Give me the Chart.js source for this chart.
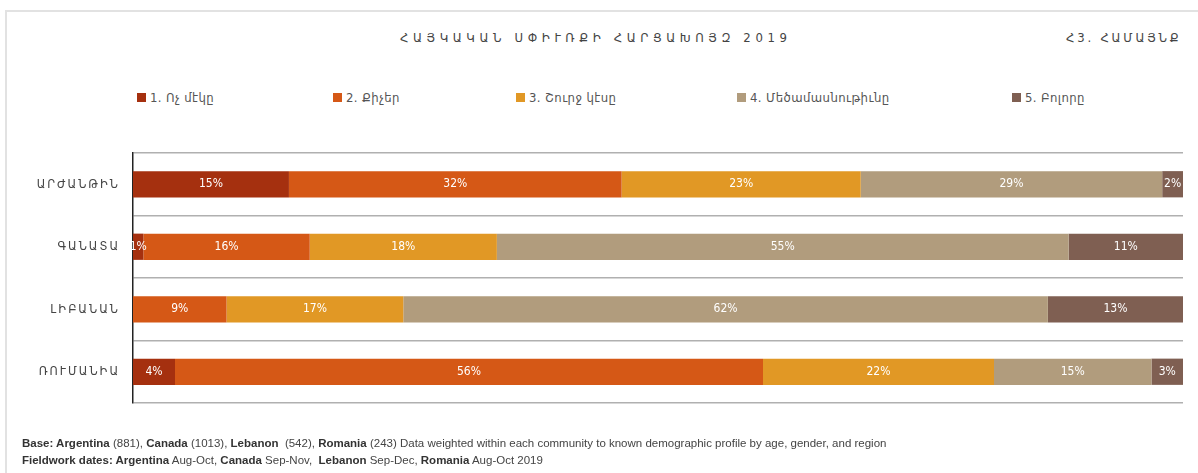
<!DOCTYPE html>
<html><head><meta charset="utf-8">
<script src="https://cdn.jsdelivr.net/npm/chart.js@4.4.0/dist/chart.umd.min.js"></script>
<style>
html,body{margin:0;padding:0;background:#fff;width:1198px;height:473px;overflow:hidden;position:relative;font-family:"DejaVu Sans Condensed","DejaVu Sans",sans-serif;}
#frame{position:absolute;left:5px;top:10px;right:-5px;bottom:-5px;border-top:2px solid #e2e2e2;border-left:2px solid #e2e2e2;}
#wrap{position:absolute;left:0;top:0;width:1198px;height:473px;}
.title{position:absolute;top:30px;font-size:13px;color:#444;white-space:nowrap;}
.leg{position:absolute;top:90px;font-size:13px;color:#555;white-space:nowrap;display:flex;align-items:center;letter-spacing:0.4px;}
.leg span.b{display:inline-block;width:9px;height:9px;margin-right:4px;}
.foot{position:absolute;left:22px;font-family:"Liberation Sans Narrow","Liberation Sans",sans-serif;font-size:11.5px;color:#444;white-space:nowrap;}
.foot b{color:#333}
</style></head><body>
<div id="frame"></div>
<div class="title" id="t1" style="left:400px;letter-spacing:4.6px;">ՀԱՅԿԱԿԱՆ ՍՓԻՒՌՔԻ ՀԱՐՑԱԽՈՅԶ 2019</div>
<div class="title" id="t2" style="left:1066px;letter-spacing:2.8px;">Հ3. ՀԱՄԱՅՆՔ</div>
<div id="legend"></div>
<div id="wrap"><canvas id="c" width="1198" height="473"></canvas></div>
<div class="foot" style="top:437px;"><b>Base: Argentina</b> (881), <b>Canada</b> (1013), <b>Lebanon</b>&nbsp; (542), <b>Romania</b> (243) Data weighted within each community to known demographic profile by age, gender, and region</div>
<div class="foot" style="top:454px;"><b>Fieldwork dates: Argentina</b> Aug-Oct, <b>Canada</b> Sep-Nov, &nbsp;<b>Lebanon</b> Sep-Dec, <b>Romania</b> Aug-Oct 2019</div>
<script>
const categories = ["ԱՐԺԱՆԹԻՆ", "ԳԱՆԱՏԱ", "ԼԻԲԱՆԱՆ", "ՌՈՒՄԱՆԻԱ"];
const seriesNames = ["1. Ոչ մէկը", "2. Քիչեր", "3. Շուրջ կէսը", "4. Մեծամասնութիւնը", "5. Բոլորը"];
const none      = [15, 1, 0, 4];
const few       = [32, 16, 9, 56];
const aboutHalf = [23, 18, 17, 22];
const majority  = [29, 55, 62, 15];
const all       = [2, 11, 13, 3];
const colors = ["#A5300F", "#D55816", "#E19825", "#B19C7D", "#7F5F52"];
const legendX = [137, 333, 516, 737, 1012];

const series = [none, few, aboutHalf, majority, all];
const totals = categories.map((_, i) => series.reduce((s, a) => s + a[i], 0));

const lg = document.getElementById('legend');
seriesNames.forEach((n, i) => {
  const d = document.createElement('div');
  d.className = 'leg';
  d.style.left = legendX[i] + 'px';
  d.innerHTML = '<span class="b" style="background:' + colors[i] + '"></span>' + n;
  lg.appendChild(d);
});

const spacingPlugin = {
  id: 'spacing',
  beforeDraw(chart) { chart.ctx.letterSpacing = '2px'; },
  afterDraw(chart) { chart.ctx.letterSpacing = '0px'; }
};

const labelPlugin = {
  id: 'segLabels',
  afterDatasetsDraw(chart) {
    const ctx = chart.ctx;
    ctx.save();
    ctx.letterSpacing = '0px';
    ctx.font = '12px "DejaVu Sans Condensed", "DejaVu Sans", sans-serif';
    ctx.fillStyle = '#fff';
    ctx.textAlign = 'center';
    ctx.textBaseline = 'middle';
    chart.data.datasets.forEach((ds, di) => {
      const meta = chart.getDatasetMeta(di);
      meta.data.forEach((bar, i) => {
        const raw = ds.raw[i];
        if (!raw) return;
        const cx = (bar.x + bar.base) / 2;
        ctx.fillText(raw + '%', cx, bar.y);
      });
    });
    ctx.restore();
  }
};

new Chart(document.getElementById('c'), {
  type: 'bar',
  data: {
    labels: categories,
    datasets: series.map((arr, i) => ({
      label: seriesNames[i],
      raw: arr,
      data: arr.map((v, j) => v / totals[j] * 100),
      backgroundColor: colors[i],
      borderWidth: 0,
      barPercentage: 0.84,
      categoryPercentage: 0.5
    }))
  },
  options: {
    indexAxis: 'y',
    responsive: false,
    animation: false,
    layout: { padding: { left: 0, top: 153, right: 15, bottom: 70 } },
    plugins: { legend: { display: false }, tooltip: { enabled: false } },
    scales: {
      x: { stacked: true, min: 0, max: 100, display: false },
      y: {
        stacked: true,
        afterFit(s) { s.width = 133; },
        grid: { offset: true, color: '#b0b0b0', lineWidth: 1.5, drawTicks: false },
        border: { display: true, color: '#222', width: 1.5 },
        ticks: { color: '#444', padding: 13, font: { family: '"DejaVu Sans Condensed", "DejaVu Sans", sans-serif', size: 12.5 } }
      }
    }
  },
  plugins: [spacingPlugin, labelPlugin]
});
</script>
</body></html>
